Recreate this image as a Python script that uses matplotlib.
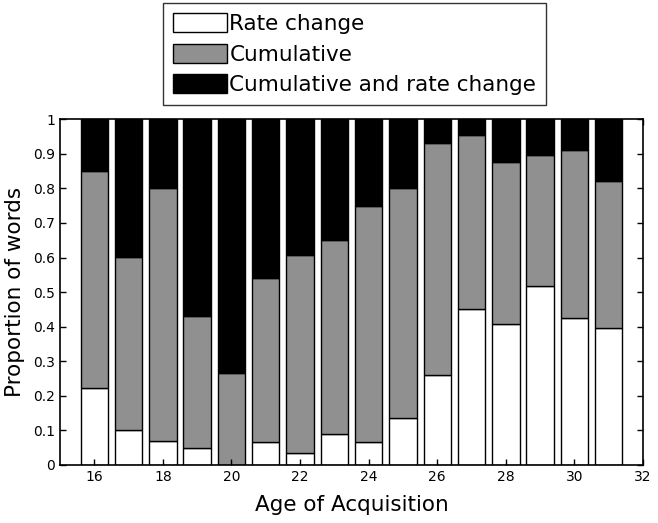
import matplotlib

matplotlib.use("Agg")
import matplotlib.pyplot as plt
import numpy as np

# values
ages = [16, 17, 18, 19, 20, 21, 22, 23, 24, 25, 26, 27, 28, 29, 30, 31]
rate_change = [0.224, 0.101, 0.070, 0.050, 0.0, 0.066, 0.036, 0.090, 0.066, 0.137,
               0.260, 0.451, 0.408, 0.518, 0.424, 0.396]
rate_plus_cum = [0.851, 0.601, 0.800, 0.430, 0.265, 0.542, 0.606, 0.652, 0.750, 0.800,
                 0.930, 0.953, 0.875, 0.898, 0.912, 0.821]
labels = ["Rate change", "Cumulative", "Cumulative and rate change"]
xticks = [16, 18, 20, 22, 24, 26, 28, 30, 32]
yticks = [0, 0.1, 0.2, 0.3, 0.4, 0.5, 0.6, 0.7, 0.8, 0.9, 1]
ytick_labels = ["0", "0.1", "0.2", "0.3", "0.4", "0.5", "0.6", "0.7", "0.8", "0.9", "1"]

rate = np.array(rate_change)
cumulative = np.array(rate_plus_cum) - rate
both = 1 - np.array(rate_plus_cum)

fig = plt.figure(figsize=(6.58, 5.23), dpi=100)
ax = fig.add_axes([0.0912, 0.111, 0.886, 0.661])

bar_kw = dict(width=0.8, edgecolor="black", linewidth=1.0)
h1 = ax.bar(ages, rate, color="white", label=labels[0], **bar_kw)
h2 = ax.bar(ages, cumulative, bottom=rate, color="#909090", label=labels[1], **bar_kw)
h3 = ax.bar(ages, both, bottom=rate + cumulative, color="black", label=labels[2], **bar_kw)

ax.set_xlim(15, 32)
ax.set_ylim(0, 1)
ax.set_xticks(xticks)
ax.set_yticks(yticks)
ax.set_yticklabels(ytick_labels)
tick_font = ["Liberation Sans Narrow", "DejaVu Sans"]
for lab in ax.get_xticklabels() + ax.get_yticklabels():
    lab.set_family(tick_font)
    lab.set_fontsize(10)
ax.tick_params(direction="in", top=True, right=True, length=4, width=1)
for sp in ax.spines.values():
    sp.set_linewidth(1.2)

ax.set_xlabel("Age of Acquisition", fontsize=15.5, labelpad=8)
ax.set_ylabel("Proportion of words", fontsize=15.5, labelpad=6)

fig.legend(handles=[h1, h2, h3], labels=labels, loc="upper left",
           bbox_to_anchor=(0.248, 0.994), bbox_transform=fig.transFigure,
           fontsize=15.5, frameon=True, fancybox=False, edgecolor="black",
           handlelength=2.5, handleheight=1.0, handletextpad=0.12,
           labelspacing=0.45, borderpad=0.45, borderaxespad=0)

fig.savefig("out.png", dpi=100)
plt.close(fig)
